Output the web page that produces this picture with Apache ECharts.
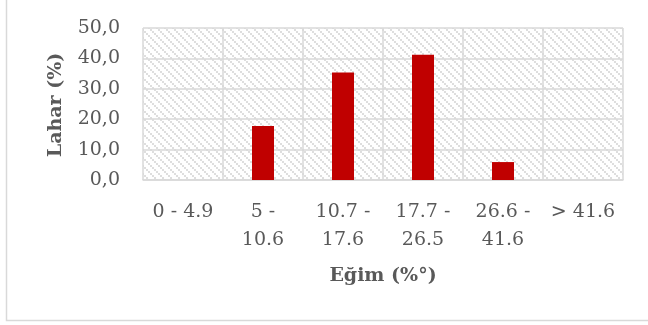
<!DOCTYPE html>
<html>
<head>
<meta charset="utf-8">
<script src="https://cdn.jsdelivr.net/npm/echarts@6/dist/echarts.min.js"></script>
<style>
  html, body { margin: 0; padding: 0; background: #ffffff; }
  #chart { width: 648px; height: 325px; }
</style>
</head>
<body>
<div id="chart"></div>
<script>
// Slope classes (%) and share of lahar area in each class (%)
const categories = ['0 - 4.9', '5 -\n10.6', '10.7 -\n17.6', '17.7 -\n26.5', '26.6 -\n41.6', '> 41.6'];
const laharShare = [0, 17.8, 35.4, 41.2, 5.9, 0];
const yTicks = [0, 10, 20, 30, 40, 50];
const xTitle = 'Eğim (%°)';
const yTitle = 'Lahar (%)';

const FONT = 'DejaVu Serif';
const TEXT = '#595959';
const GRID = '#d9d9d9';

// Light dotted diagonal hatch used to fill the plot area
function hatchPattern() {
  const c = document.createElement('canvas');
  c.width = 8; c.height = 8;
  const g = c.getContext('2d');
  g.fillStyle = '#ffffff';
  g.fillRect(0, 0, 8, 8);
  g.fillStyle = '#dedede';
  for (let i = 0; i < 8; i++) {
    if (i % 2 === 0) g.fillRect(i, i, 1, 1);
    g.fillRect((i + 1) % 8, i, 1, 1);
    if (i % 2 === 1) g.fillRect((i + 2) % 8, i, 1, 1);
  }
  return { image: c, repeat: 'repeat' };
}

const chart = echarts.init(document.getElementById('chart'), null, { renderer: 'canvas' });
chart.setOption({
  animation: false,
  backgroundColor: '#ffffff',
  graphic: [{
    type: 'rect',
    shape: { x: 6.5, y: -10, width: 700, height: 330.5 },
    style: { fill: 'none', stroke: GRID, lineWidth: 1.5 },
    silent: true
  }, {
    // vertical axis title, rotated to read bottom-to-top
    type: 'text',
    x: 56, y: 105,
    rotation: Math.PI / 2,
    style: {
      text: yTitle,
      fill: TEXT,
      font: 'bold 19px "DejaVu Serif"',
      align: 'center',
      verticalAlign: 'middle'
    },
    silent: true
  }],
  grid: {
    left: 143, top: 28, width: 480, height: 152,
    show: true,
    backgroundColor: hatchPattern(),
    borderWidth: 0
  },
  xAxis: {
    type: 'category',
    data: categories,
    axisLine: { show: true, lineStyle: { color: GRID, width: 1.5 } },
    axisTick: { show: false },
    splitLine: { show: true, interval: 0, lineStyle: { color: GRID, width: 1.5 } },
    axisLabel: {
      interval: 0,
      margin: 18,
      color: TEXT,
      fontFamily: FONT,
      fontSize: 19,
      lineHeight: 28
    },
    name: xTitle,
    nameLocation: 'middle',
    nameGap: 87,
    nameTextStyle: { color: TEXT, fontFamily: FONT, fontSize: 19, fontWeight: 'bold' }
  },
  yAxis: {
    type: 'value',
    min: yTicks[0],
    max: yTicks[yTicks.length - 1],
    interval: yTicks[1] - yTicks[0],
    axisLine: { show: false },
    axisTick: { show: false },
    splitLine: { show: true, lineStyle: { color: GRID, width: 1.5 } },
    axisLabel: {
      margin: 23,
      color: TEXT,
      fontFamily: FONT,
      fontSize: 19,
      formatter: v => v.toFixed(1).replace('.', ',')
    }
  },
  series: [{
    type: 'bar',
    data: laharShare,
    barWidth: '27.5%',
    itemStyle: { color: '#c00000' }
  }]
});
</script>
</body>
</html>
